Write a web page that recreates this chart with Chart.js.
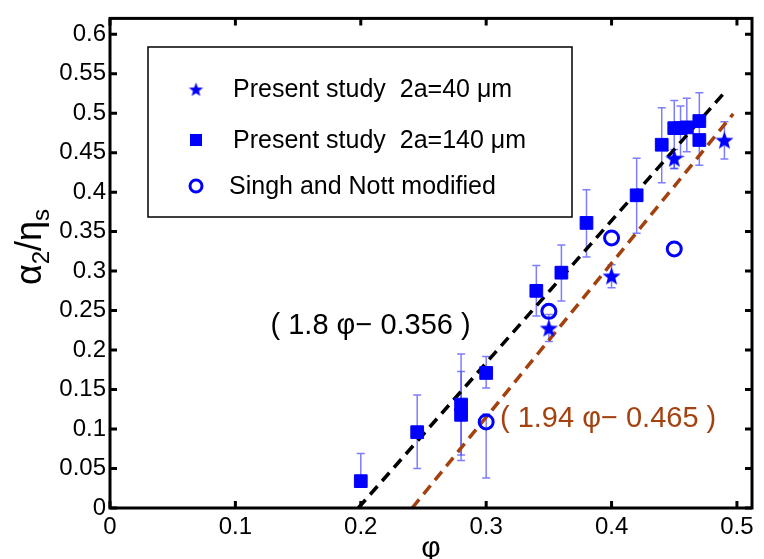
<!DOCTYPE html>
<html>
<head>
<meta charset="utf-8">
<script src="https://cdn.jsdelivr.net/npm/chart.js@4.4.1/dist/chart.umd.min.js"></script>
<style>
  html, body { margin: 0; padding: 0; background: #fff; }
  #wrap { width: 764px; height: 559px; }
</style>
</head>
<body>
<div id="wrap"><canvas id="alpha2_phi"></canvas></div>
<script>
// Present study 2a=40 um (stars)
const starX  = [0.35, 0.40, 0.45, 0.49];
const starY  = [0.228, 0.294, 0.443, 0.466];
const starLo = [0.211, 0.279, 0.430, 0.442];
const starHi = [0.245, 0.308, 0.454, 0.489];

// Present study 2a=140 um (squares)
const sqX  = [0.200, 0.245, 0.280, 0.280, 0.300, 0.340, 0.360, 0.380, 0.420, 0.440, 0.450, 0.455, 0.460, 0.470, 0.470];
const sqY  = [0.034, 0.096, 0.118, 0.131, 0.171, 0.275, 0.298, 0.361, 0.396, 0.460, 0.481, 0.481, 0.482, 0.490, 0.466];
const sqLo = [0.034, 0.050, 0.060, 0.067, 0.152, 0.243, 0.262, 0.318, 0.348, 0.412, 0.430, 0.445, 0.451, 0.434, 0.466];
const sqHi = [0.069, 0.143, 0.173, 0.195, 0.192, 0.307, 0.333, 0.403, 0.443, 0.507, 0.516, 0.509, 0.519, 0.526, 0.466];

// Singh and Nott modified (open circles)
const snX  = [0.30, 0.35, 0.40, 0.45];
const snY  = [0.109, 0.249, 0.342, 0.328];
const snLo = [0.038, 0.249, 0.342, 0.328];
const snHi = [0.119, 0.249, 0.342, 0.328];

// fitted lines, end points
const fitBlackX = [0.198, 0.490];
const fitBlackY = [0.000, 0.526];
const fitBrownX = [0.241, 0.497];
const fitBrownY = [0.000, 0.499];

const xTicks = [0, 0.1, 0.2, 0.3, 0.4, 0.5];
const yTicks = [0, 0.05, 0.1, 0.15, 0.2, 0.25, 0.3, 0.35, 0.4, 0.45, 0.5, 0.55, 0.6];

const BLUE = '#0000ff';
const BROWN = '#a3420f';
const FONT = 'Arial, "Liberation Sans", sans-serif';

function makeStar(r) {
  const c = document.createElement('canvas');
  const s = Math.ceil(r * 2 + 2);
  c.width = s; c.height = s;
  const g = c.getContext('2d');
  g.fillStyle = BLUE;
  g.beginPath();
  for (let i = 0; i < 10; i++) {
    const rad = i % 2 ? r * 0.42 : r;
    const a = -Math.PI / 2 + i * Math.PI / 5;
    g.lineTo(s / 2 + rad * Math.cos(a), s / 2 + 1 + rad * Math.sin(a));
  }
  g.closePath();
  g.fill();
  return c;
}
const starBig = makeStar(9.5);
const starSmall = makeStar(7.5);

function pts(xs, ys) {
  return xs.map((x, i) => ({ x: x, y: ys[i] }));
}

// vertical error bars, drawn under the markers
const errorBars = {
  id: 'errorBars',
  beforeDatasetsDraw(chart) {
    const ctx = chart.ctx, xs = chart.scales.x, ys = chart.scales.y, a = chart.chartArea;
    ctx.save();
    ctx.beginPath();
    ctx.rect(a.left, a.top, a.right - a.left, a.bottom - a.top);
    ctx.clip();
    ctx.strokeStyle = 'rgba(70, 70, 255, 0.7)';
    ctx.lineWidth = 1.5;
    chart.data.datasets.forEach(ds => {
      if (!ds.errLo) return;
      ds.data.forEach((p, i) => {
        const lo = ds.errLo[i], hi = ds.errHi[i];
        if (lo === hi) return;
        const px = xs.getPixelForValue(p.x);
        const y1 = ys.getPixelForValue(lo), y2 = ys.getPixelForValue(hi);
        ctx.beginPath();
        ctx.moveTo(px, y1); ctx.lineTo(px, y2);
        if (lo < p.y) { ctx.moveTo(px - 4, y1); ctx.lineTo(px + 4, y1); }
        if (hi > p.y) { ctx.moveTo(px - 4, y2); ctx.lineTo(px + 4, y2); }
        ctx.stroke();
      });
    });
    ctx.restore();
  }
};

// box frame with inward ticks on all four sides, axis titles, fit labels, legend
const decorations = {
  id: 'decorations',
  afterDraw(chart) {
    const ctx = chart.ctx, xs = chart.scales.x, ys = chart.scales.y, a = chart.chartArea;
    ctx.save();
    ctx.strokeStyle = '#000';
    ctx.lineWidth = 3;
    ctx.strokeRect(a.left, a.top, a.right - a.left, a.bottom - a.top);
    ctx.beginPath();
    xTicks.forEach(v => {
      const px = xs.getPixelForValue(v);
      ctx.moveTo(px, a.bottom); ctx.lineTo(px, a.bottom - 7);
      ctx.moveTo(px, a.top); ctx.lineTo(px, a.top + 7);
    });
    yTicks.forEach(v => {
      const py = ys.getPixelForValue(v);
      ctx.moveTo(a.left, py); ctx.lineTo(a.left + 7, py);
      ctx.moveTo(a.right, py); ctx.lineTo(a.right - 7, py);
    });
    ctx.stroke();

    // x title
    ctx.fillStyle = '#000';
    ctx.font = '30px ' + FONT;
    ctx.textAlign = 'center';
    ctx.textBaseline = 'alphabetic';
    ctx.fillText('φ', (a.left + a.right) / 2, 557);

    // y title with subscripts, rotated
    ctx.save();
    ctx.translate(41, 247);
    ctx.rotate(-Math.PI / 2);
    const parts = [['α', 36, 0], ['2', 24, 8], ['/', 36, 0], ['η', 36, 0], ['s', 24, 8]];
    let total = 0;
    parts.forEach(p => { ctx.font = p[1] + 'px ' + FONT; total += ctx.measureText(p[0]).width; });
    let cx = -total / 2;
    ctx.textAlign = 'left';
    parts.forEach(p => {
      ctx.font = p[1] + 'px ' + FONT;
      ctx.fillText(p[0], cx, p[2]);
      cx += ctx.measureText(p[0]).width;
    });
    ctx.restore();

    // fit equations
    ctx.font = '29px ' + FONT;
    ctx.textAlign = 'left';
    ctx.textBaseline = 'middle';
    ctx.fillStyle = '#000';
    ctx.fillText('( 1.8 φ− 0.356 )', xs.getPixelForValue(0.128), ys.getPixelForValue(0.231));
    ctx.fillStyle = BROWN;
    ctx.fillText('( 1.94 φ− 0.465 )', xs.getPixelForValue(0.311), ys.getPixelForValue(0.113));

    // legend box
    ctx.fillStyle = '#fff';
    ctx.fillRect(148, 47, 424, 170);
    ctx.strokeStyle = '#000';
    ctx.lineWidth = 1.5;
    ctx.strokeRect(148, 47, 424, 170);
    const rows = [89, 140, 186];
    const textX = [233, 233, 229];
    ctx.font = '25px ' + FONT;
    ctx.fillStyle = '#000';
    chart.data.datasets.slice(0, 3).forEach((ds, i) => {
      const my = rows[i];
      if (i === 0) {
        ctx.drawImage(starSmall, 196 - starSmall.width / 2, my - starSmall.height / 2);
      } else if (i === 1) {
        ctx.fillStyle = BLUE;
        ctx.fillRect(190, my - 6, 12, 12);
      } else {
        ctx.strokeStyle = BLUE;
        ctx.lineWidth = 3;
        ctx.beginPath();
        ctx.arc(196, my, 6, 0, Math.PI * 2);
        ctx.stroke();
      }
      ctx.fillStyle = '#000';
      ctx.fillText(ds.label, textX[i], my + 1);
    });
    ctx.restore();
  }
};

const ctx = document.getElementById('alpha2_phi').getContext('2d');
const myChart = new Chart(ctx, {
  type: 'scatter',
  data: {
    datasets: [{
      label: 'Present study  2a=40 μm',
      data: pts(starX, starY),
      errLo: starLo,
      errHi: starHi,
      pointStyle: starBig,
      backgroundColor: BLUE,
      borderColor: BLUE
    }, {
      label: 'Present study  2a=140 μm',
      data: pts(sqX, sqY),
      errLo: sqLo,
      errHi: sqHi,
      pointStyle: 'rect',
      pointRadius: 9,
      borderWidth: 1,
      backgroundColor: BLUE,
      borderColor: BLUE
    }, {
      label: 'Singh and Nott modified',
      data: pts(snX, snY),
      errLo: snLo,
      errHi: snHi,
      pointStyle: 'circle',
      pointRadius: 7,
      borderWidth: 3,
      backgroundColor: 'rgba(0, 0, 0, 0)',
      borderColor: BLUE
    }, {
      label: 'fit 1.8',
      type: 'line',
      data: pts(fitBlackX, fitBlackY),
      showLine: true,
      pointRadius: 0,
      borderColor: '#000',
      borderWidth: 3.5,
      borderDash: [11, 7]
    }, {
      label: 'fit 1.94',
      type: 'line',
      data: pts(fitBrownX, fitBrownY),
      showLine: true,
      pointRadius: 0,
      borderColor: BROWN,
      borderWidth: 3.5,
      borderDash: [11, 7]
    }]
  },
  options: {
    responsive: true,
    maintainAspectRatio: false,
    animation: false,
    layout: { padding: { top: 7, right: 12, left: 0, bottom: 0 } },
    scales: {
      x: {
        type: 'linear',
        min: 0,
        max: 0.512,
        afterFit: s => { s.height = 51; },
        grid: { display: false, drawTicks: false },
        border: { display: false },
        ticks: {
          stepSize: 0.1,
          includeBounds: false,
          padding: 5,
          color: '#000',
          font: { family: FONT, size: 24 },
          callback: v => String(+v.toFixed(2))
        }
      },
      y: {
        type: 'linear',
        min: 0,
        max: 0.62,
        afterFit: s => { s.width = 110; },
        grid: { display: false, drawTicks: false },
        border: { display: false },
        ticks: {
          stepSize: 0.05,
          includeBounds: false,
          padding: 4,
          color: '#000',
          font: { family: FONT, size: 24 },
          callback: v => String(+v.toFixed(2))
        }
      }
    },
    plugins: {
      legend: { display: false },
      tooltip: { enabled: false }
    }
  },
  plugins: [errorBars, decorations]
});
</script>
</body>
</html>
